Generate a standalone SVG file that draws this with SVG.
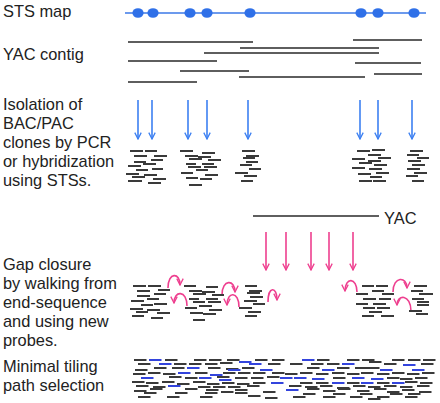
<svg xmlns="http://www.w3.org/2000/svg" width="440" height="403" viewBox="0 0 440 403">
<defs>
<style>
.lbl{font-family:"Liberation Sans",Arial,sans-serif;font-size:16.4px;fill:#222222}
.sts{stroke:#3b78e7;stroke-width:1.6;fill:none}
.dot{fill:#2f70e8}
.yac{stroke:#2a2a2a;stroke-width:1.5;fill:none}
.barr{stroke:#3d80f2;stroke-width:1.6;fill:none}
.parr{stroke:#ee3f8f;stroke-width:1.6;fill:none}
.dash{stroke:#3a3a3a;stroke-width:2;fill:none}
.bdash{stroke:#3344dd;stroke-width:2;fill:none}
</style>
<marker id="hb" viewBox="0 0 10 10" refX="9" refY="5" markerWidth="8" markerHeight="8" markerUnits="userSpaceOnUse" orient="auto">
<path d="M1,1 L9,5 L1,9" fill="none" stroke="#3d80f2" stroke-width="1.6"/>
</marker>
<marker id="hp" viewBox="0 0 10 10" refX="9" refY="5" markerWidth="8" markerHeight="8" markerUnits="userSpaceOnUse" orient="auto">
<path d="M1,1 L9,5 L1,9" fill="none" stroke="#ee3f8f" stroke-width="1.6"/>
</marker>
</defs>
<rect width="440" height="403" fill="#ffffff"/>

<g id="labels">
<text class="lbl" x="3" y="17">STS map</text>
<text class="lbl" x="3" y="60">YAC contig</text>
<text class="lbl" x="3" y="110">Isolation of</text>
<text class="lbl" x="3" y="129">BAC/PAC</text>
<text class="lbl" x="3" y="148">clones by PCR</text>
<text class="lbl" x="3" y="167">or hybridization</text>
<text class="lbl" x="3" y="186">using STSs.</text>
<text class="lbl" x="3" y="270">Gap closure</text>
<text class="lbl" x="3" y="289">by walking from</text>
<text class="lbl" x="3" y="308">end-sequence</text>
<text class="lbl" x="3" y="327">and using new</text>
<text class="lbl" x="3" y="346">probes.</text>
<text class="lbl" x="3" y="372">Minimal tiling</text>
<text class="lbl" x="3" y="391">path selection</text>
</g>

<g id="sts-map">
<line class="sts" x1="125" y1="13" x2="426" y2="13"/>
<ellipse class="dot" cx="138" cy="13" rx="5.6" ry="4.8"/>
<ellipse class="dot" cx="153" cy="13" rx="5.6" ry="4.8"/>
<ellipse class="dot" cx="190" cy="13" rx="5.6" ry="4.8"/>
<ellipse class="dot" cx="207" cy="13" rx="5.6" ry="4.8"/>
<ellipse class="dot" cx="250" cy="13" rx="5.6" ry="4.8"/>
<ellipse class="dot" cx="361" cy="13" rx="5.6" ry="4.8"/>
<ellipse class="dot" cx="378" cy="13" rx="5.6" ry="4.8"/>
<ellipse class="dot" cx="414" cy="13" rx="5.6" ry="4.8"/>
</g>

<g id="yac-contig">
<path class="yac" d="M128,42H253 M353,40H422 M240,48H379 M204,53H379 M128,61H217 M355,63H421 M180,71H249 M374,74H422 M239,77H365 M128,82H197"/>
</g>

<g id="connectors">
<line class="barr" x1="138" y1="100" x2="138" y2="139" marker-end="url(#hb)"/>
<line class="barr" x1="152" y1="100" x2="152" y2="139" marker-end="url(#hb)"/>
<line class="barr" x1="188" y1="100" x2="188" y2="139" marker-end="url(#hb)"/>
<line class="barr" x1="207" y1="100" x2="207" y2="139" marker-end="url(#hb)"/>
<line class="barr" x1="248" y1="100" x2="248" y2="139" marker-end="url(#hb)"/>
<line class="barr" x1="360" y1="100" x2="360" y2="139" marker-end="url(#hb)"/>
<line class="barr" x1="378" y1="100" x2="378" y2="139" marker-end="url(#hb)"/>
<line class="barr" x1="412" y1="100" x2="412" y2="139" marker-end="url(#hb)"/>

<line class="parr" x1="266" y1="232" x2="266" y2="270" marker-end="url(#hp)"/>
<line class="parr" x1="286" y1="232" x2="286" y2="270" marker-end="url(#hp)"/>
<line class="parr" x1="311" y1="232" x2="311" y2="270" marker-end="url(#hp)"/>
<line class="parr" x1="329" y1="232" x2="329" y2="270" marker-end="url(#hp)"/>
<line class="parr" x1="353" y1="232" x2="353" y2="270" marker-end="url(#hp)"/>

<path class="parr" d="M168,288 C168,272 180,272 180,285" marker-end="url(#hp)"/>
<path class="parr" d="M187,306 C187,290 174,290 174,303" marker-end="url(#hp)"/>
<path class="parr" d="M222,295 C222,279 235,279 235,292" marker-end="url(#hp)"/>
<path class="parr" d="M239,307 C239,291 227,291 227,305" marker-end="url(#hp)"/>
<path class="parr" d="M268,302 C268,286 277,286 277,300" marker-end="url(#hp)"/>
<path class="parr" d="M357,292 C357,277 345,277 345,291" marker-end="url(#hp)"/>
<path class="parr" d="M393,292 C393,276 407,276 407,288" marker-end="url(#hp)"/>
<path class="parr" d="M411,311 C411,294 397,294 397,305" marker-end="url(#hp)"/>
</g>

<g id="clones-sts">
<path class="dash" d="M130,151h13 M145,151h12 M134,156h13 M154,156h13 M151,160h12 M134,162h12 M143,164h13 M128,166h13 M152,169h11 M136,170h12 M126,174h13 M144,175h13 M132,177h13 M153,179h13 M128,181h14 M148,183h13"/>
<path class="dash" d="M180,151h13 M202,153h13 M185,156h13 M198,157h13 M189,159h13 M208,160h13 M186,164h10 M202,164h12 M188,167h13 M204,167h13 M196,170h12 M181,173h12 M205,175h13 M186,178h12 M200,179h12 M189,185h13"/>
<path class="dash" d="M242,151h13 M246,156h13 M243,158h12 M246,162h12 M240,165h12 M249,169h12 M235,173h13 M244,176h13 M241,181h12"/>
<path class="dash" d="M357,151h13 M372,150h13 M368,155h13 M352,159h13 M378,158h13 M368,161h13 M359,163h13 M374,165h13 M352,168h13 M369,169h13 M376,173h13 M358,174h13 M370,177h12 M359,181h13 M373,181h13"/>
<path class="dash" d="M410,151h13 M407,155h12 M417,158h12 M408,161h13 M412,165h13 M407,169h13 M414,173h13 M406,176h12 M412,181h12"/>
</g>

<g id="yac-gap">
<line class="yac" x1="253" y1="216" x2="379" y2="216"/>
<text class="lbl" x="384" y="224">YAC</text>
</g>

<g id="clones-walk">
<path class="dash" d="M133,286h13 M148,286h13 M137,291h13 M158,290h12 M154,294h12 M137,296h13 M147,299h12 M131,301h13 M154,304h13 M141,305h12 M130,309h13 M147,310h13 M136,312h12 M157,313h13 M132,316h12 M151,318h12"/>
<path class="dash" d="M184,286h12 M206,287h12 M189,291h13 M202,292h13 M193,294h13 M212,295h12 M189,299h10 M206,299h12 M193,302h12 M208,302h13 M199,306h13 M185,308h12 M209,310h13 M190,313h13 M203,314h13 M193,320h12"/>
<path class="dash" d="M245,286h12 M249,291h13 M247,293h13 M250,297h13 M244,301h13 M253,304h12 M239,308h13 M248,312h13 M245,316h12"/>
<path class="dash" d="M362,286h12 M376,286h12 M356,294h12 M372,291h12 M382,294h12 M363,299h13 M379,299h12 M356,304h12 M373,304h13 M363,308h12 M377,308h13 M369,312h13 M362,316h12 M381,316h13"/>
<path class="dash" d="M414,286h13 M411,291h12 M419,294h14 M412,299h12 M417,302h12 M417,305h12 M409,311h13 M416,314h12"/>
</g>

<g id="tiling-path">
<path class="dash" d="M134,360h12.5 M165,360h12.5 M194,360h12.5 M209,360h12.5 M227,360h12.5 M255,360h12.5 M272,360h12.5 M138,364h12.5 M174,364h12.5 M189,364h12.5 M205,364h12.5 M220,363h12.5 M268,364h12.5 M154,368h12.5 M172,368h12.5 M208,368h12.5 M226,369h12.5 M242,368h12.5 M135,370h12.5 M133,374h12.5 M148,373h12.5 M163,374h12.5 M195,373h12.5 M223,373h12.5 M238,373h12.5 M253,373h12.5 M272,373h12.5 M169,377h12.5 M185,378h12.5 M217,377h12.5 M235,378h12.5 M251,378h12.5 M267,377h12.5 M132,382h12.5 M146,383h12.5 M162,382h12.5 M177,384h12.5 M193,382h12.5 M207,384h12.5 M222,383h12.5 M237,384h12.5 M253,383h12.5 M153,387h12.5 M136,386h12.5 M198,387h12.5 M213,387h12.5 M228,387h12.5 M247,386h12.5 M134,391h12.5 M150,389h12.5 M185,389h12.5 M206,390h12.5 M221,392h12.5 M235,390h12.5 M263,392h12.5 M144,393h12.5 M175,393h12.5 M205,393h12.5 M235,393h12.5 M248,396h12.5 M138,397h12.5 M167,397h12.5 M200,397h12.5 M265,398h12.5"/>
<path class="dash" d="M317,360h12.5 M347,360h12.5 M362,360h12.5 M392,360h12.5 M408,360h12.5 M423,360h12.5 M369,362h12.5 M290,364h12.5 M311,364h12.5 M327,364h12.5 M384,364h12.5 M421,364h12.5 M307,368h12.5 M337,368h12.5 M355,368h12.5 M367,368h12.5 M285,374h12.5 M300,373h12.5 M316,374h12.5 M332,373h12.5 M347,374h12.5 M361,373h12.5 M377,374h12.5 M392,373h12.5 M407,374h12.5 M422,373h12.5 M333,378h12.5 M387,378h12.5 M400,379h12.5 M415,378h12.5 M300,383h12.5 M316,383h12.5 M347,383h12.5 M377,383h12.5 M405,382h12.5 M420,383h12.5 M289,386h12.5 M305,387h12.5 M320,386h12.5 M337,388h12.5 M353,386h12.5 M368,387h12.5 M384,386h12.5 M400,387h12.5 M417,386h12.5 M307,389h12.5 M323,391h12.5 M338,389h12.5 M357,391h12.5 M374,389h12.5 M387,392h12.5 M402,390h12.5 M419,392h12.5 M303,394h12.5 M333,394h12.5 M360,394h12.5 M390,394h12.5 M408,394h12.5 M293,397h12.5 M323,397h12.5 M350,397h12.5 M377,397h12.5 M405,397h12.5 M368,399h12.5"/>
<path class="bdash" d="M149,360h12.5 M239,362h12.5 M159,364h12.5 M249,364h12.5 M187,368h12.5 M260,370h12.5 M228,370h12.5 M178,373h12.5 M210,375h12.5 M141,378h12.5 M199,378h12.5 M219,380h12.5 M271,383h12.5 M168,386h12.5 M302,360h12.5 M342,364h12.5 M403,365h12.5 M322,370h12.5 M380,370h12.5 M412,370h12.5 M280,378h12.5 M294,378h12.5 M312,379h12.5 M352,378h12.5 M371,379h12.5 M332,383h12.5 M361,383h12.5 M392,383h12.5 M286,390h12.5"/>
</g>
</svg>
